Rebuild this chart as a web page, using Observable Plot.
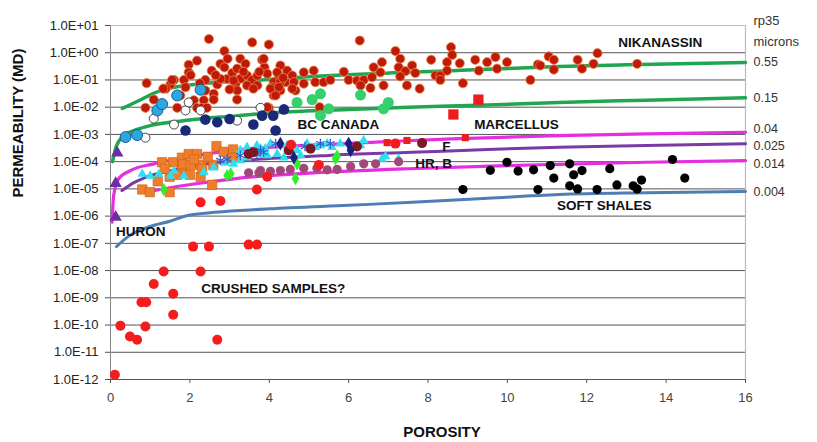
<!DOCTYPE html>
<html><head><meta charset="utf-8">
<script src="https://cdn.jsdelivr.net/npm/d3@7"></script>
<script src="https://cdn.jsdelivr.net/npm/@observablehq/plot@0.6"></script>
<style>html,body{margin:0;padding:0;background:#fff;} svg{display:block}</style>
</head><body><div id="chart"></div>
<script>
// ---- tick values ----
const yTickExps = [-12,-11,-10,-9,-8,-7,-6,-5,-4,-3,-2,-1,0,1];
const xTicks = [0,2,4,6,8,10,12,14,16];

// ---- series: [porosity %, permeability mD] ----
const nikanassin = [[0.91,0.076],[2.48,3.2],[2.87,1.15],[3.57,2.4],[3.99,2.0],[1.97,0.36],[2.18,0.51],[1.97,0.19],[1.6,0.1],[1.51,0.068],[1.39,0.048],[1.85,0.1],[1.89,0.054],[1.76,0.027],[2.1,0.018],[2.39,0.1],[2.39,0.041],[2.6,0.031],[2.69,0.068],[2.77,0.39],[2.87,0.29],[2.94,0.11],[3.07,0.18],[3.19,0.26],[3.27,0.6],[3.4,0.39],[3.27,0.11],[3.44,0.145],[3.57,0.1],[3.7,0.145],[3.82,0.55],[3.88,0.29],[3.15,0.068],[3.44,0.063],[3.7,0.063],[3.19,0.041],[3.6,0.048],[3.95,0.17],[4.11,0.083],[4.07,0.054],[4.28,0.34],[4.45,0.22],[4.58,0.145],[4.24,0.145],[4.41,0.083],[4.62,0.083],[4.28,0.041],[4.66,0.041],[4.11,0.027],[2.77,0.11],[2.35,0.018],[1.09,0.019],[0.88,0.0095],[1.68,0.0095],[2.18,0.0095],[2.6,0.019],[3.19,0.019],[1.33,0.048],[1.55,0.1],[2.31,0.0095],[2.43,0.0095],[3.99,0.0095],[3.86,0.6],[4.2,0.19],[4.87,0.19],[5.12,0.22],[4.28,0.083],[4.87,0.073],[5.16,0.083],[5.37,0.083],[5.54,0.1],[4.03,0.048],[4.24,0.054],[4.58,0.048],[4.16,0.027],[5.88,0.2],[6.0,0.1],[6.21,0.095],[6.38,0.1],[6.3,0.063],[6.55,0.051],[6.88,0.063],[6.59,0.126],[6.63,0.29],[6.84,0.45],[6.8,0.19],[7.18,1.15],[7.3,0.6],[7.26,0.29],[7.43,0.21],[7.6,0.34],[7.68,0.18],[7.3,0.135],[7.47,0.063],[7.79,0.048],[8.08,0.55],[8.19,0.145],[8.31,0.145],[8.48,0.45],[8.48,0.22],[8.31,0.1],[8.58,1.6],[8.61,0.83],[8.8,0.41],[8.88,0.076],[9.19,0.55],[9.28,0.22],[9.49,0.45],[9.7,0.69],[9.74,0.26],[9.99,0.45],[10.58,0.1],[10.77,0.37],[11.04,0.73],[11.17,0.55],[11.17,0.24],[10.83,0.34],[11.77,0.55],[11.88,0.26],[12.17,0.39],[12.27,0.96],[13.27,0.39],[6.28,2.8],[5.27,0.01],[3.95,0.01],[2.02,0.15],[2.55,0.22],[3.0,0.045],[2.95,0.6],[3.35,0.2],[2.25,0.075],[3.1,0.095],[4.35,0.12],[2.65,0.15],[3.75,0.2]];
const lightBlue = [[0.38,0.0008],[0.67,0.00095],[1.18,0.0076],[1.3,0.013],[1.68,0.027],[2.27,0.044]];
const openCircles = [[1.09,0.0038],[1.6,0.0023],[0.88,0.00076],[1.89,0.0076],[2.27,0.0076],[3.19,0.0032],[3.78,0.0095],[1.97,0.015]];
const navy = [[1.89,0.0014],[2.39,0.0035],[2.69,0.0028],[3.0,0.0037],[3.6,0.0023],[3.82,0.0049],[4.1,0.0049],[4.16,0.0014],[4.37,0.0083]];
const greenCircles = [[4.7,0.015],[5.08,0.019],[5.29,0.031],[5.5,0.0087],[5.29,0.005],[6.3,0.028],[7.0,0.015],[6.88,0.0087]];
const marcellus = [[9.27,0.019],[8.64,0.0054]];
const softShales = [[8.88,9.5e-6],[9.57,4.8e-5],[9.99,9.5e-5],[10.27,4.5e-5],[10.66,5e-5],[10.77,9.5e-6],[11.08,7.2e-5],[11.17,2.5e-5],[11.57,8.3e-5],[11.67,3.3e-5],[11.88,4.7e-5],[11.57,1.3e-5],[11.77,1e-5],[12.26,9.5e-6],[12.58,5.5e-5],[12.76,1.4e-5],[13.17,1.3e-5],[13.27,1e-5],[13.38,2.1e-5],[14.16,1.2e-4],[14.47,2.5e-5]];
const redCircles = [[0.11,1.5e-12],[0.25,9.5e-11],[0.49,3.8e-11],[0.67,2.9e-11],[0.88,8.9e-11],[0.78,6.9e-10],[0.9,6.9e-10],[1.09,3.2e-9],[1.58,1.4e-9],[1.58,2.4e-10],[2.69,2.9e-11],[1.34,9.3e-9],[2.27,9.3e-9],[2.08,7.6e-8],[2.48,7.6e-8],[3.48,9e-8],[3.69,9e-8],[2.27,3.2e-6],[2.77,3.6e-6],[3.69,9.5e-6],[3.95,2.8e-5],[5.25,7.6e-5],[7.18,4.6e-4],[4.55,4.2e-4]];
const redSquaresSmall = [[6.97,5e-4],[7.47,6e-4],[8.94,7.6e-4]];
const orangeSquares = [[0.8,9.5e-6],[0.99,7.6e-6],[1.49,7.6e-6],[1.19,1.9e-5],[1.3,9.5e-5],[1.58,9.5e-5],[1.49,2.8e-5],[1.8,1.4e-4],[1.8,5.5e-5],[1.97,1.9e-4],[2.18,1.9e-4],[1.83,8e-5],[2.02,7.6e-5],[2.27,7.6e-5],[1.68,3.3e-5],[2.0,3.3e-5],[2.27,2.8e-5],[2.31,5.5e-5],[2.59,7.6e-5],[2.67,3.7e-4],[2.85,2.3e-4],[3.09,2.8e-4],[3.09,1.4e-4],[2.56,1.4e-5],[1.37,5.5e-5],[2.1,1.2e-4],[2.45,1.5e-4]];
const cyanTriangles = [[0.8,3.5e-5],[1.0,3e-5],[1.22,3.5e-5],[1.51,3e-5],[1.85,3e-5],[2.35,4.1e-5],[3.1,8.3e-5],[3.27,2.6e-4],[3.44,3.4e-4],[3.6,2.2e-4],[3.78,3e-4],[3.95,1.7e-4],[3.44,1.4e-4],[3.27,1.1e-4],[3.69,3.9e-4],[3.9,3e-4],[4.03,4.6e-4],[4.2,1.9e-4],[4.45,3.9e-4],[4.7,2.6e-4],[4.79,1.7e-4],[4.95,4.6e-4],[5.16,3.4e-4],[5.29,3.9e-4],[5.46,4.6e-4],[5.58,3.4e-4],[5.79,4.6e-4],[6.3,3.9e-4],[6.38,6e-4],[6.84,1.25e-4],[4.37,1.4e-4],[3.82,1.9e-4],[6.93,1.55e-4],[7.26,1.25e-4],[2.6,6e-5],[2.9,9e-5],[1.6,4.5e-5]];
const blueAsterisks = [[2.77,1.1e-4],[2.94,1.25e-4],[3.27,1.7e-4],[3.69,1.9e-4],[3.86,2.2e-4],[3.78,2.6e-4],[4.16,4.6e-4],[5.29,4.6e-4],[5.54,4.6e-4],[4.9,3.6e-4]];
const maroon = [[3.48,1.9e-4],[4.49,2.6e-4],[5.04,3e-4],[6.21,3.6e-4],[7.85,4.8e-4],[3.6,2.2e-4]];
const navyDiamonds = [[4.28,4.6e-4],[4.62,1.4e-4],[6.0,4.6e-4],[6.05,2.6e-4]];
const mauve = [[3.78,4.7e-5],[4.03,4.4e-5],[4.28,4.7e-5],[4.53,5.2e-5],[4.87,5.7e-5],[5.2,5.7e-5],[5.46,5e-5],[5.71,5.2e-5],[6.05,6.6e-5],[6.38,8.3e-5],[6.68,8.3e-5],[7.26,1e-4],[3.48,3.9e-5],[3.74,3.9e-5]];
const greenDiamonds = [[4.7,8.3e-5],[5.67,1.3e-4],[5.71,1.6e-4],[4.66,2.4e-5],[2.94,3.1e-5],[3.03,3.6e-5],[1.34,9.5e-6]];
const purpleTriangles = [[0.17,2.1e-4],[0.13,1.6e-5],[0.13,9.2e-7]];

// ---- rp35 curves ----
const curve055 = [[0.3,0.009],[0.8,0.02],[1.1,0.033],[1.5,0.05],[2,0.066],[2.7,0.082],[3.8,0.1],[4.8,0.126],[7.5,0.19],[9,0.23],[11.3,0.31],[13,0.36],[16,0.44]];
const curve015 = [[0.05,0.0001],[0.15,0.00038],[0.34,0.0009],[0.6,0.0014],[1,0.0021],[1.6,0.0029],[2.3,0.0038],[3.1,0.0047],[3.8,0.0058],[5.5,0.0078],[7.5,0.01],[9.5,0.012],[11.3,0.015],[13.5,0.018],[16,0.022]];
const curve004 = [[0.04,6e-7],[0.08,5.8e-6],[0.21,2.4e-5],[0.5,4.7e-5],[1.09,8.3e-5],[1.85,1.4e-4],[2.69,2.2e-4],[3.53,3e-4],[4.5,3.7e-4],[6.7,5.2e-4],[8.6,6.9e-4],[11.3,9e-4],[13.5,1.05e-3],[16,1.2e-3]];
const curve0025 = [[0.29,8.7e-6],[0.59,1.7e-5],[0.84,2.5e-5],[1.5,4.6e-5],[2.5,8.5e-5],[3.8,1.25e-4],[5.5,1.7e-4],[7.6,2.2e-4],[9.5,2.8e-4],[11.3,3.4e-4],[13.5,3.9e-4],[16,4.5e-4]];
const curve0014 = [[1.0,8e-6],[1.5,1.1e-5],[2.5,1.8e-5],[3.5,2.7e-5],[5,3.8e-5],[7.5,5.5e-5],[9.5,6.8e-5],[11.3,8e-5],[13.5,9.5e-5],[16,1.1e-4]];
const curve0004 = [[0.15,7.6e-8],[0.45,1.8e-7],[1,4.2e-7],[1.5,6.5e-7],[2,1.1e-6],[4,1.85e-6],[6,2.5e-6],[7.6,3.2e-6],[9.5,4.5e-6],[11.3,6.2e-6],[13.5,7.2e-6],[16,8e-6]];

const rpLabels = ["0.55","0.15","0.04","0.025","0.014","0.004"];
const rpLabelY = [0.44,0.022,1.55e-3,3.8e-4,8.5e-5,7.6e-6];

const annoText = ["NIKANASSIN","BC CANADA","MARCELLUS","F","HR, B","SOFT SHALES","HURON","CRUSHED SAMPLES?"];
const annoX = [13.85,5.74,10.23,8.46,8.14,12.44,0.76,4.1];
const annoY = [2.38,2.3e-3,2.3e-3,3.6e-4,8.5e-5,2.5e-6,2.7e-7,2.2e-9];

// ---- build ----
const yTicks = yTickExps.map(k => Math.pow(10, k));
const fmt = d => { const k = Math.round(Math.log10(d)); return "1.0E" + (k < 0 ? "-" : "+") + String(Math.abs(k)).padStart(2, "0"); };
const annos = annoText.map((t, i) => ({t, x: annoX[i], y: annoY[i]}));
const rps = rpLabels.map((t, i) => ({t, y: rpLabelY[i]}));
const X = d => d[0], Y = d => d[1];
const lineOpt = (stroke, w) => ({x: X, y: Y, stroke, strokeWidth: w, curve: "monotone-x", strokeLinecap: "round"});

const chart = Plot.plot({
  width: 817, height: 442,
  marginLeft: 110, marginRight: 72, marginTop: 25, marginBottom: 63,
  style: {fontFamily: "'Liberation Sans', Arial, sans-serif", fontSize: "13px", background: "#fff", overflow: "visible"},
  x: {domain: [0, 16]},
  y: {type: "log", domain: [1e-12, 10]},
  marks: [
    Plot.ruleY(yTicks.filter(v => v < 10), {stroke: "#555", strokeWidth: 1}),
    Plot.ruleY([10], {stroke: "#bbb", strokeWidth: 1.2}),
    Plot.ruleX([16], {stroke: "#bbb", strokeWidth: 1.2}),
    Plot.ruleX([0], {stroke: "#888", strokeWidth: 1}),
    Plot.axisY({ticks: yTicks, tickFormat: fmt, tickSize: 5, tickPadding: 7, label: null, fontSize: 13, color: "#222", stroke: "#555"}),
    Plot.axisX({ticks: xTicks, tickSize: 4, tickPadding: 9, label: null, fontSize: 13, color: "#444", stroke: "#555"}),
    // curves
    Plot.line(curve0004, lineOpt("#4f7db5", 3)),
    Plot.line(curve0014, lineOpt("#e62ee0", 3.2)),
    Plot.line(curve0025, lineOpt("#7a3aa6", 3)),
    Plot.line(curve004, lineOpt("#e62ee0", 3.2)),
    Plot.line(curve015, lineOpt("#20a650", 3.5)),
    Plot.line(curve055, lineOpt("#20a650", 3.5)),
    // points
    Plot.dot(nikanassin, {x: X, y: Y, r: 4.6, fill: "#c01a08", stroke: "#e88a50", strokeWidth: 0.8}),
    Plot.dot(openCircles, {x: X, y: Y, r: 4.5, fill: "#fff", stroke: "#333", strokeWidth: 0.9}),
    Plot.dot(lightBlue, {x: X, y: Y, r: 5.5, fill: "#2aa8e2", stroke: "#1b4f86", strokeWidth: 0.9}),
    Plot.dot(navy, {x: X, y: Y, r: 5.3, fill: "#1b2a78"}),
    Plot.dot(greenCircles, {x: X, y: Y, r: 5.5, fill: "#34d06c"}),
    Plot.dot(marcellus, {x: X, y: Y, symbol: "square", r: 5.8, fill: "#ee1c1c"}),
    Plot.dot(softShales, {x: X, y: Y, r: 4.6, fill: "#000"}),
    Plot.dot(orangeSquares, {x: X, y: Y, symbol: "square", r: 5.3, fill: "#ef7e2c", stroke: "#c8600f", strokeWidth: 0.6}),
    Plot.dot(cyanTriangles, {x: X, y: Y, symbol: "triangle", r: 3.6, fill: "#2fdff0"}),
    Plot.dot(blueAsterisks, {x: X, y: Y, symbol: "asterisk", r: 4.5, stroke: "#3560cc", strokeWidth: 1.3}),
    Plot.dot(mauve, {x: X, y: Y, r: 4.6, fill: "#a2477a"}),
    Plot.dot(greenDiamonds, {x: X, y: Y, symbol: "diamond", r: 4, fill: "#30ee28"}),
    Plot.dot(maroon, {x: X, y: Y, r: 5, fill: "#7a1824"}),
    Plot.dot(navyDiamonds, {x: X, y: Y, symbol: "diamond", r: 4.2, fill: "#1a2280"}),
    Plot.dot(redCircles, {x: X, y: Y, r: 5, fill: "#f41c1c"}),
    Plot.dot(redSquaresSmall, {x: X, y: Y, symbol: "square", r: 4, fill: "#ee1c1c"}),
    Plot.dot(purpleTriangles, {x: X, y: Y, symbol: "triangle", r: 4.6, fill: "#6c2fa2"}),
    // annotations
    Plot.text(annos, {x: "x", y: "y", text: "t", fontWeight: "bold", fontSize: 13.5, fill: "#111"}),
    Plot.text(rps, {x: () => 16, y: "y", text: "t", dx: 8, textAnchor: "start", fontSize: 12.5, fill: "#333"}),
    Plot.text(["rp35"], {frameAnchor: "top-right", dx: 8, dy: -10, textAnchor: "start", fontSize: 13, fill: "#333"}),
    Plot.text(["microns"], {frameAnchor: "top-right", dx: 8, dy: 11, textAnchor: "start", fontSize: 13, fill: "#333"}),
    Plot.text(["POROSITY"], {frameAnchor: "bottom", dx: 14, dy: 57, fontWeight: "bold", fontSize: 15, fill: "#111"}),
    Plot.text(["PERMEABILITY (MD)"], {frameAnchor: "left", rotate: -90, dx: -92, dy: -5, fontWeight: "bold", fontSize: 15, fill: "#111"})
  ]
});
document.getElementById("chart").appendChild(chart);
</script></body></html>
